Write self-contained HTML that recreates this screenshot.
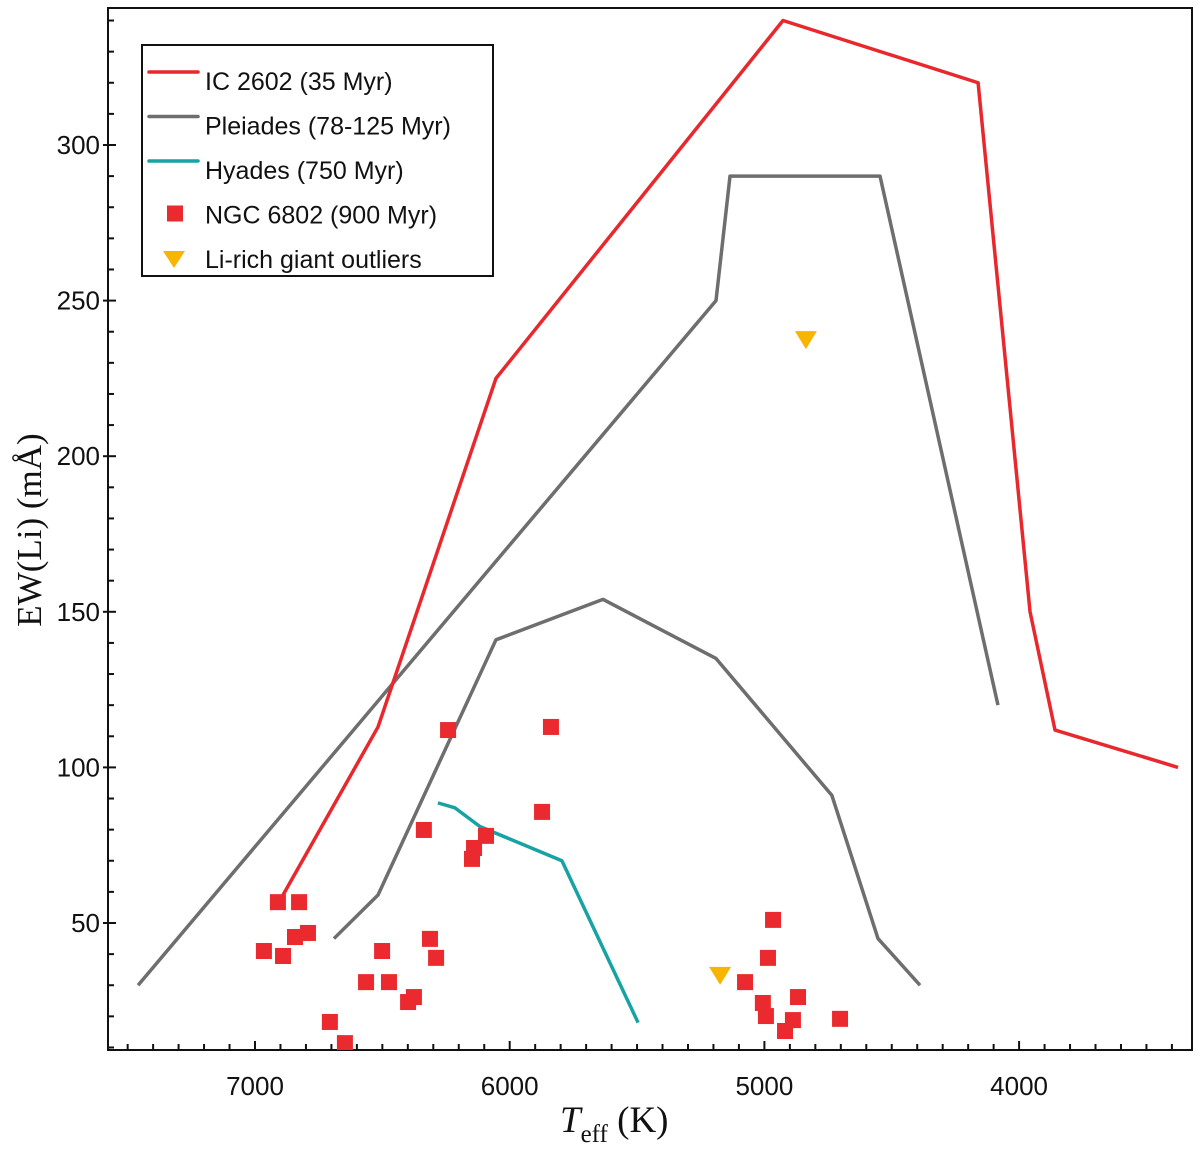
<!DOCTYPE html>
<html><head><meta charset="utf-8"><style>
html,body{margin:0;padding:0;background:#fff;}
svg{display:block;}
</style></head><body>
<svg id="chart" width="1200" height="1151" viewBox="0 0 1200 1151" xmlns="http://www.w3.org/2000/svg"></svg>
<script>
const ic2602T=[6890,6517,6054,4927,4161,3957,3859,3376];
const ic2602V=[59,113,225,340,320,150,112,100];
const pleiUpT=[7459,5190,5135,4546,4083];
const pleiUpV=[30,250,290,290,120];
const pleiLoT=[6690,6517,6054,5634,5190,4735,4554,4389];
const pleiLoV=[45,59,141,154,135,91,45,30];
const hyadesT=[6282,6215,6117,5795,5496];
const hyadesV=[88.6,87,81,70,18];
const ngcT=[6910,6827,6965,6890,6843,6792,6501,6564,6474,6399,6376,6313,6289,6706,6647,6337,6242,6140,6148,6093,5873,5838,4966,4986,5076,5006,4994,4868,4888,4919,4703];
const ngcV=[56.7,56.7,41.0,39.4,45.5,46.8,41.0,31.0,31.0,24.6,26.2,44.9,38.8,18.2,11.4,79.9,112.0,74.1,70.6,78.0,85.7,113.0,51.0,38.8,31.0,24.3,20.1,26.2,18.8,15.3,19.2];
const outT=[4837,5174];
const outV=[237.3,33.0];
const xTicks=[7000,6000,5000,4000];
const yTicks=[50,100,150,200,250,300];

const NS='http://www.w3.org/2000/svg';
const svg=document.getElementById('chart');
const L=108,R=1192,T0=8,B=1050;
function X(t){return 255+(7000-t)*0.2547;}
function Y(v){return 923-(v-50)*3.112;}
function el(tag,attrs,parent){const e=document.createElementNS(NS,tag);for(const k in attrs)e.setAttribute(k,attrs[k]);(parent||svg).appendChild(e);return e;}

const defs=el('defs',{});
const cp=el('clipPath',{id:'plotclip'},defs);
el('rect',{x:L,y:T0,width:R-L,height:B-T0},cp);

const frame=el('rect',{x:L,y:T0,width:R-L,height:B-T0,fill:'none',stroke:'#111','stroke-width':2});



for(let v=10;v<=340;v+=10){
  const major=v%50===0;
  const ln=el('line',{x1:L-(major?5:0),x2:L+(major?8:6),y1:Y(v),y2:Y(v),stroke:'#111','stroke-width':2});
  
  
}
yTicks.forEach(v=>{
  const t=el('text',{x:100,y:Y(v)+9,'text-anchor':'end','font-family':'Liberation Sans, sans-serif','font-size':26,fill:'#111'});
  t.textContent=v;
  
  
});
for(let t=7500;t>=3400;t-=100){
  const major=t%1000===0;
  const ln=el('line',{x1:X(t),x2:X(t),y1:B-(major?9:6),y2:B,stroke:'#111','stroke-width':2});
  
  
}
xTicks.forEach(t=>{
  const tx=el('text',{x:X(t),y:1095,'text-anchor':'middle','font-family':'Liberation Sans, sans-serif','font-size':26,fill:'#111'});
  tx.textContent=t;
  
  
});

const yt=el('text',{x:0,y:0,transform:'translate(41,530) rotate(-90)','text-anchor':'middle','font-family':'Liberation Serif, serif','font-size':35,fill:'#111'});
yt.textContent='EW(Li) (mÅ)';


const xt=el('text',{x:560,y:1132,'font-family':'Liberation Serif, serif','font-size':37,fill:'#111'});
xt.innerHTML='<tspan font-style="italic">T</tspan><tspan font-size="25" dy="10">eff</tspan><tspan dy="-10"> (K)</tspan>';



const g=el('g',{'clip-path':'url(#plotclip)'});
function line(ts,vs,color,name){
  const p=el('polyline',{points:ts.map((t,i)=>X(t)+','+Y(vs[i])).join(' '),fill:'none',stroke:color,'stroke-width':3.5,'stroke-linejoin':'round'},g);
  
  
}
line(pleiUpT,pleiUpV,'#6e6e6e','pleiades-upper-line');
line(pleiLoT,pleiLoV,'#6e6e6e','pleiades-lower-line');
line(ic2602T,ic2602V,'#e8282c','ic2602-line');
line(hyadesT,hyadesV,'#17a3a3','hyades-line');
ngcT.forEach((t,i)=>{
  const r=el('rect',{x:X(t)-8,y:Y(ngcV[i])-8,width:16,height:16,fill:'#ea2a2e'},g);
  
  
});
outT.forEach((t,i)=>{
  const x=X(t),y=Y(outV[i]);
  const p=el('polygon',{points:`${x-11},${y-9} ${x+11},${y-9} ${x},${y+9}`,fill:'#f8b500'},g);
  
  
});

const lg=el('g',{});


el('rect',{x:142,y:45,width:351,height:231,fill:'#fff',stroke:'#111','stroke-width':2},lg);
const items=[['IC 2602 (35 Myr)','line','#e8282c'],['Pleiades (78-125 Myr)','line','#6e6e6e'],['Hyades (750 Myr)','line','#17a3a3'],['NGC 6802 (900 Myr)','sq','#ea2a2e'],['Li-rich giant outliers','tri','#f8b500']];
items.forEach((it,i)=>{
  const cy=80+i*44.5;
  const ge=el('g',{},lg);
  
  
  if(it[1]==='line') el('line',{x1:149,x2:198,y1:cy-8,y2:cy-8,stroke:it[2],'stroke-width':3.5,'stroke-linecap':'round'},ge);
  else if(it[1]==='sq') el('rect',{x:167,y:cy-8,width:16,height:16,fill:it[2]},ge);
  else el('polygon',{points:`${163},${cy-7} ${185},${cy-7} ${174},${cy+10}`,fill:it[2]},ge);
  const t=el('text',{x:205,y:cy+10,'font-family':'Liberation Sans, sans-serif','font-size':25,fill:'#111'},ge);
  t.textContent=it[0];
});
</script>
</body></html>
